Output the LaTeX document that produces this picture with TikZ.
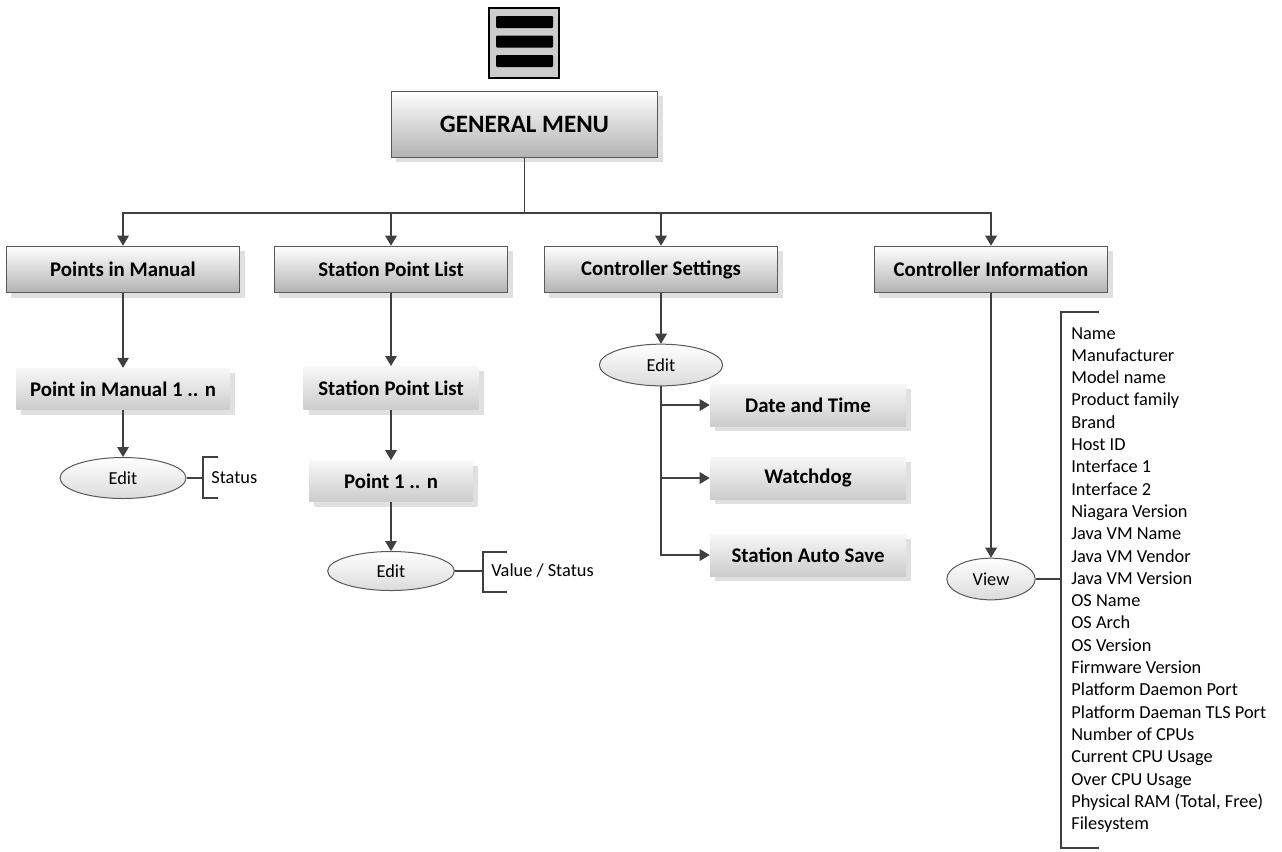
\documentclass[tikz,border=0pt]{standalone}
\usepackage{fontspec}
\setmainfont{Carlito}
\usetikzlibrary{arrows.meta, shapes.geometric, shadows}

\tikzset{
  lin/.style={draw=black!75, line width=0.7pt},
  arr/.style={lin, -{Triangle[length=6pt, width=7pt]}},
  boxshadow/.style={drop shadow={shadow xshift=3pt, shadow yshift=-3pt, fill=black!12, opacity=1}},
  mainbox/.style={rectangle, draw=black!65, line width=0.6pt, top color=white, bottom color=black!30, boxshadow, inner sep=0pt, font=\bfseries\fontsize{12.5}{15}\selectfont},
  subbox/.style={rectangle, top color=black!3, bottom color=black!20, boxshadow, inner sep=0pt, font=\bfseries\fontsize{12.5}{15}\selectfont},
  oval/.style={ellipse, draw=black!65, line width=0.6pt, top color=white, bottom color=black!14, inner sep=0pt, font=\fontsize{11}{13}\selectfont},
  info/.style={inner sep=0pt, font=\fontsize{11}{13}\selectfont}
}

\begin{document}
\begin{tikzpicture}[x=0.6pt, y=-0.6pt]
\useasboundingbox (0,0) rectangle (1282,851);

\node[rectangle, draw=black, line width=1.2pt, fill=black!20, minimum size=42pt] (icon) at (524,42.5) {};
\foreach \y in {22,41.5,61}
  \fill[rounded corners=0.6pt] (496,\y-6) rectangle (553,\y+6);

\node[mainbox, minimum width=160pt, minimum height=39.6pt, font=\bfseries\fontsize{15}{18}\selectfont] (general) at (524.5,124) {GENERAL MENU};

\node[mainbox, minimum width=140pt, minimum height=28pt] (manual) at (123,269.5) {Points in Manual};
\node[mainbox, minimum width=140pt, minimum height=28pt] (stlist) at (391,269.5) {Station Point List};
\node[mainbox, minimum width=140pt, minimum height=28pt] (ctrlset) at (661,269.5) {Controller Settings};
\node[mainbox, minimum width=140pt, minimum height=28pt] (ctrlinfo) at (991,269.5) {Controller Information};

\coordinate (bus) at (524.5,213);
\draw[lin] (general) -- (bus);
\foreach \n in {manual,stlist,ctrlset,ctrlinfo}
  \draw[arr] (bus) -| (\n.north);

\node[subbox, minimum width=128pt, minimum height=25pt] (manualpt) at (123,389) {Point in Manual 1 .. n};
\node[oval, minimum width=75.6pt, minimum height=24.6pt] (editA) at (123,478) {Edit};
\draw[arr] (manual) -- (manualpt);
\draw[arr] (manualpt) -- (editA);
\coordinate (brA) at (203,478);
\draw[lin] (editA) -- (brA);
\draw[lin] (218,457) -| (203,498) -- (218,498);
\node[info, anchor=west] (status) at (211,478) {Status};

\node[subbox, minimum width=105pt, minimum height=26pt] (stpt) at (391,388) {Station Point List};
\node[subbox, minimum width=98pt, minimum height=24.6pt] (pointn) at (391,481) {Point 1 .. n};
\node[oval, minimum width=76pt, minimum height=23.4pt] (editB) at (391,571) {Edit};
\draw[arr] (stlist) -- (stpt);
\draw[arr] (stpt) -- (pointn);
\draw[arr] (pointn) -- (editB);
\coordinate (brB) at (483,571);
\draw[lin] (editB) -- (brB);
\draw[lin] (507,552) -| (483,592) -- (507,592);
\node[info, anchor=west] (valstat) at (491,571) {Value / Status};

\node[oval, minimum width=74pt, minimum height=25pt] (editC) at (661,365) {Edit};
\draw[arr] (ctrlset) -- (editC);
\node[subbox, minimum width=117.6pt, minimum height=25.2pt] (datetime) at (808,405) {Date and Time};
\node[subbox, minimum width=117.6pt, minimum height=25.2pt] (watchdog) at (808,478) {Watchdog};
\node[subbox, minimum width=117.6pt, minimum height=25.2pt] (autosave) at (808,555) {Station Auto Save};
\foreach \n in {datetime,watchdog,autosave}
  \draw[arr] (editC.south) |- (\n.west);

\node[oval, minimum width=53pt, minimum height=25pt] (view) at (991,579) {View};
\draw[arr] (ctrlinfo) -- (view);
\coordinate (brC) at (1061,579);
\draw[lin] (view) -- (brC);
\draw[lin] (1099,312) -| (1061,848) -- (1099,848);
\foreach \t [count=\i from 0] in {Name, Manufacturer, Model name, Product family, Brand, Host ID, Interface 1, Interface 2, Niagara Version, Java VM Name, Java VM Vendor, Java VM Version, OS Name, OS Arch, OS Version, Firmware Version, Platform Daemon Port, Platform Daeman TLS Port, Number of CPUs, Current CPU Usage, Over CPU Usage, {Physical RAM (Total, Free)}, Filesystem}
  \node[info, anchor=base west] (item\i) at (1071,339+22.3*\i) {\t};
\end{tikzpicture}
\end{document}
